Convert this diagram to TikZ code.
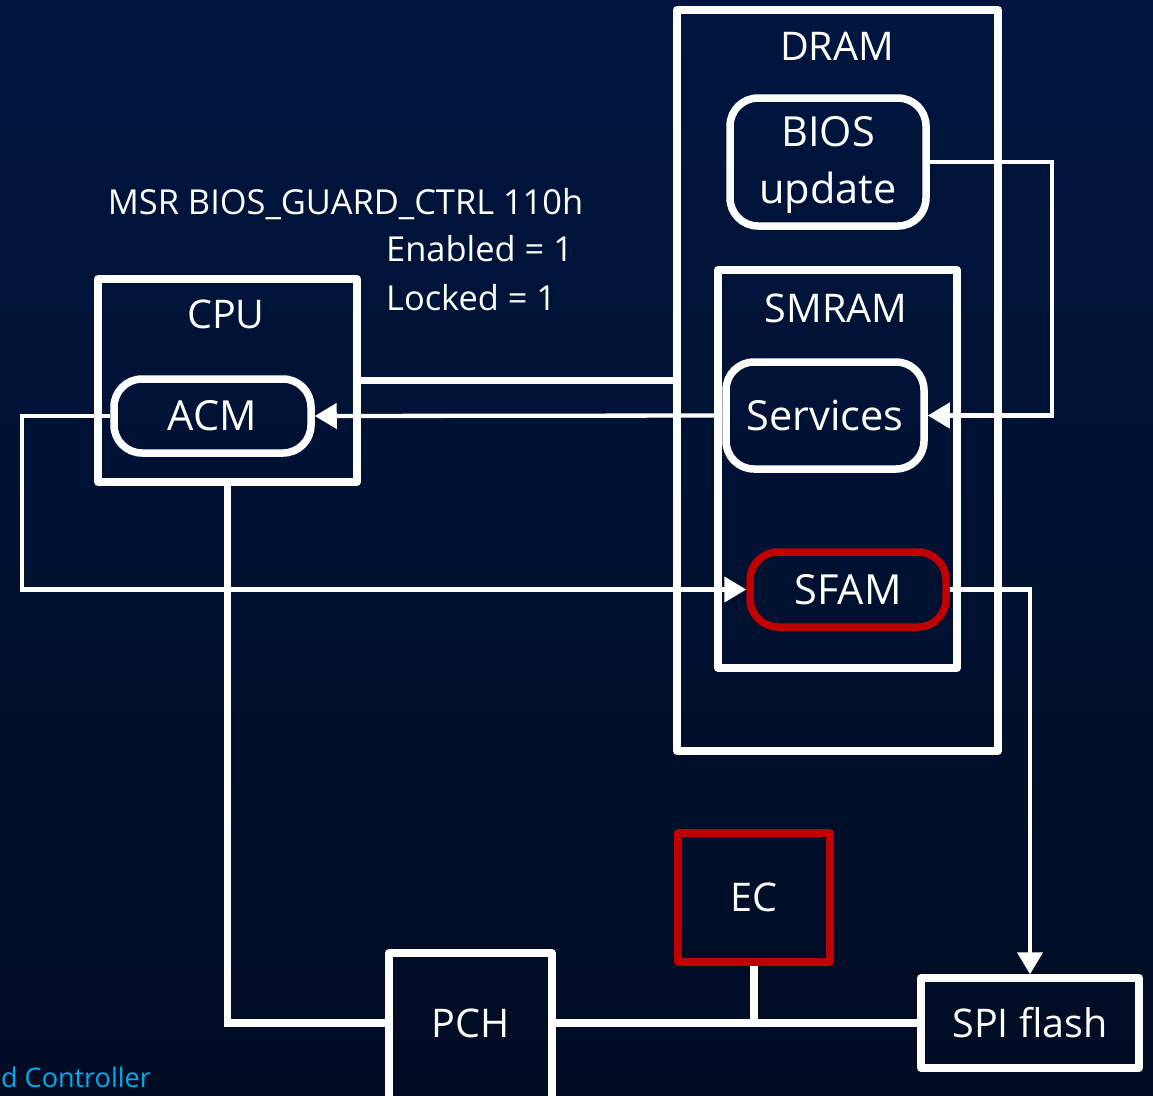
\documentclass[tikz,border=0pt]{standalone}
\usepackage{fontspec}
\setmainfont{Open Sans}
\usetikzlibrary{arrows.meta,calc}
\definecolor{bgtop}{RGB}{0,22,64}
\definecolor{bgbot}{RGB}{0,12,34}
\definecolor{boxred}{RGB}{192,0,0}
\definecolor{ecyan}{RGB}{0,170,235}
\begin{document}
\begin{tikzpicture}[x=1pt,y=-1pt,
  box/.style={draw=white, line width=7.5pt, line join=round, inner sep=0pt, text=white},
  rbox/.style={box, rounded corners=28pt},
  lab/.style={text=white, inner sep=0pt},
  hfont/.style={font=\fontsize{39.5}{46}\selectfont},
  ifont/.style={font=\fontsize{41.5}{57}\selectfont},
  mfont/.style={font=\fontsize{34.4}{40}\selectfont},
  thinline/.style={draw=white, line width=4.3pt},
  thickline/.style={draw=white, line width=7.5pt},
  arr/.style={-{Triangle[length=22pt,width=25pt]}}]
\useasboundingbox (0,0) rectangle (1153,1095);
\shade[top color=bgtop, bottom color=bgbot] (0,0) rectangle (1153,1095);
\clip (0,0) rectangle (1153,1095);
% DRAM
\node[box, minimum width=321pt, minimum height=741pt] (dram) at (837.5,380.5) {};
\node[lab, hfont] (dramlab) at (837,46) {DRAM};
\node[box, minimum width=239pt, minimum height=398pt] (smram) at (837.5,469) {};
\node[lab, hfont] (smramlab) at (836,308) {SMRAM};
\node[rbox, minimum width=196pt, minimum height=128pt] (bios) at (828,162) {};
\node[lab, ifont, align=center] (biostext) at (828,165) {BIOS\\update};
\node[rbox, ifont, minimum width=198pt, minimum height=107pt] (serv) at (825,415.5) {Services};
\node[rbox, ifont, draw=boxred, minimum width=196pt, minimum height=75pt] (sfam) at (848,589.5) {SFAM};
% CPU
\node[box, minimum width=259pt, minimum height=203pt] (cpu) at (227.5,380.5) {};
\node[lab, hfont] (cpulab) at (226,314) {CPU};
\node[rbox, ifont, minimum width=197pt, minimum height=74pt] (acm) at (212.5,416) {ACM};
% MSR text
\node[lab, mfont, anchor=base] (msr) at (345.5,214) {MSR BIOS\_GUARD\_CTRL 110h};
\node[lab, mfont, anchor=base west] (en) at (386,261) {Enabled = 1};
\node[lab, mfont, anchor=base west] (lk) at (386,310) {Locked = 1};
% bottom
\node[box, minimum width=163pt, minimum height=200pt, anchor=north] (pch) at (470.5,949.25) {};
\node[lab, hfont] (pchlab) at (470.5,1023) {PCH};
\node[box, hfont, draw=boxred, minimum width=152pt, minimum height=129pt] (ec) at (754,897.5) {EC};
\node[box, hfont, minimum width=218pt, minimum height=90pt] (spi) at (1030,1023) {SPI flash};
\node[anchor=base west, text=ecyan, font=\fontsize{27}{30}\selectfont, inner sep=0pt] (ectext) at (1,1087) {d Controller};
% connectors
\draw[thickline] (cpu.east) -- (dram.west);
\draw[thinline, arr] (serv.west) -- (acm.east);
\coordinate (bturn) at (1052,162);
\draw[thinline, arr] (bios.east) -- (bturn) |- (serv.east);
\coordinate (aturn) at (22,416);
\draw[thinline, arr] (acm.west) -- (aturn) |- (sfam.west);
\draw[thinline, arr] (sfam.east) -| (spi.north);
\draw[thickline] (cpu.south) |- (pch.west |- pchlab);
\draw[thickline] (pch.east |- pchlab) -- (spi.west);
\draw[thickline] (ec.south) -- (ec.south |- spi.west);
\end{tikzpicture}
\end{document}
